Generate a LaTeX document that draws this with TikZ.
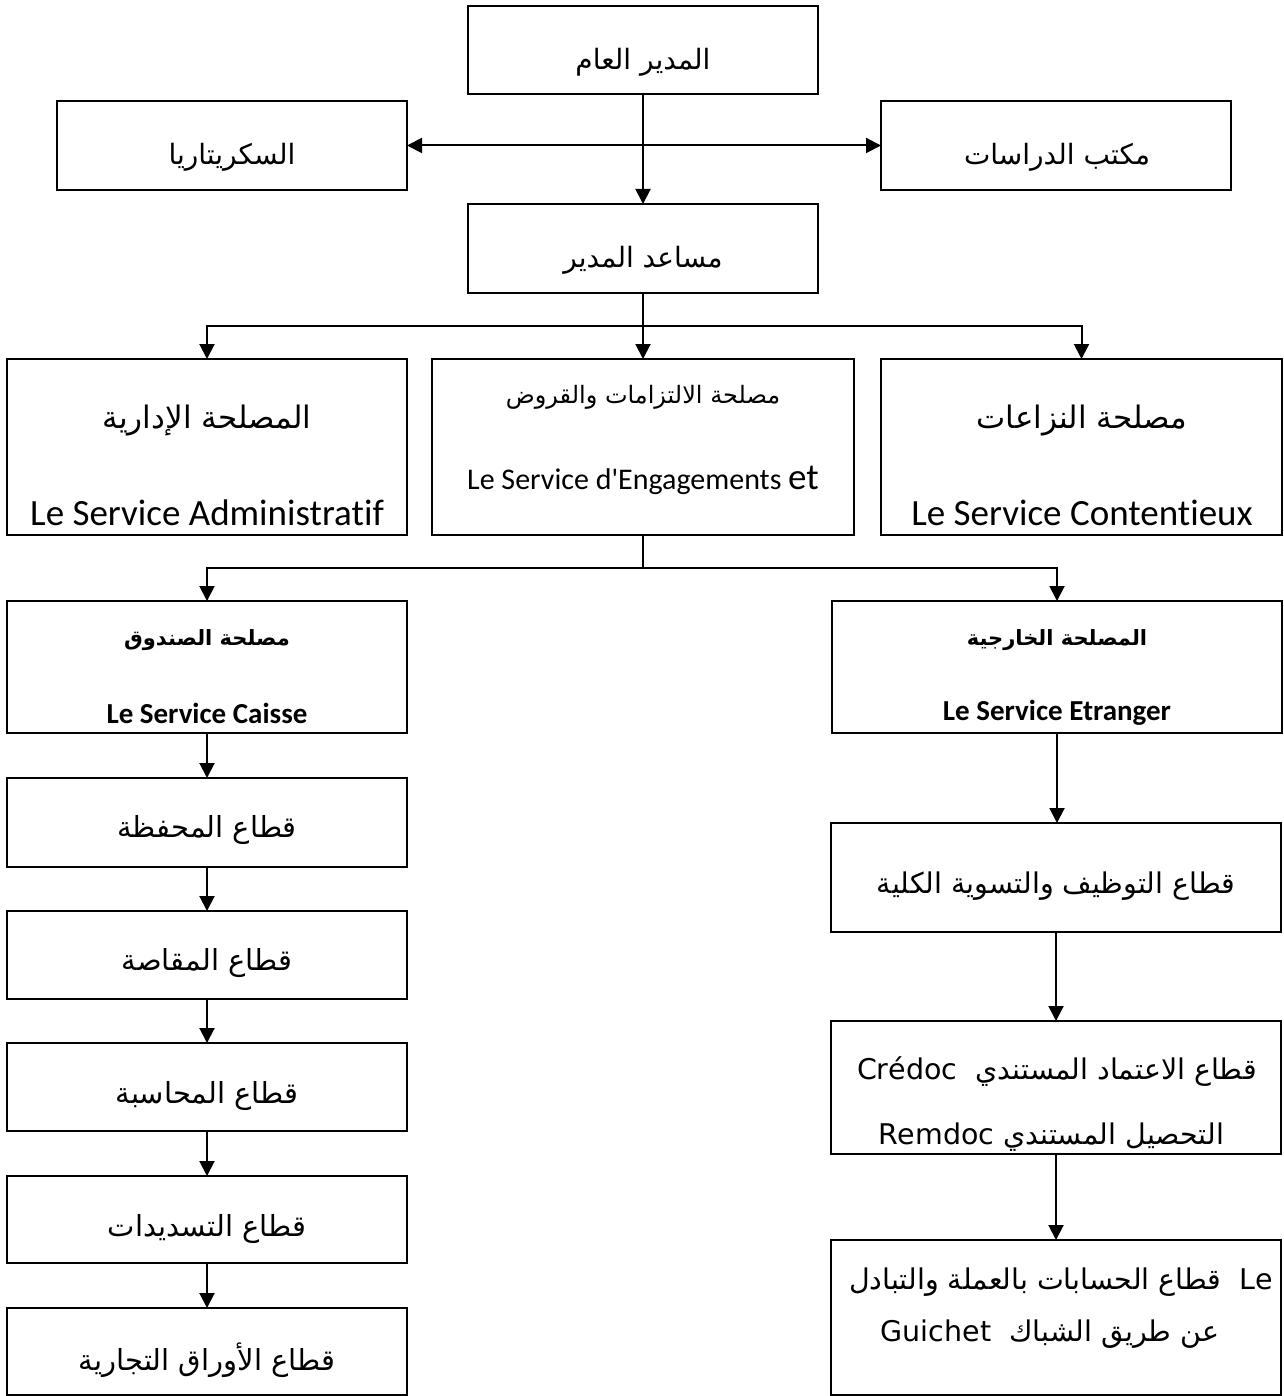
\documentclass[tikz,border=0pt]{standalone}
\usepackage{fontspec}
\setmainfont{Carlito}
\newfontfamily\carl{Carlito}[Ligatures=NoCommon]
\newfontfamily\arabicfont[Script=Arabic]{DejaVu Sans}
\TeXXeTstate=1
\usetikzlibrary{arrows.meta}
\newcommand{\fs}[1]{\fontsize{#1}{#1}\selectfont}
\begin{document}
\begin{tikzpicture}[x=1pt,y=-1pt,
  box/.style={draw, line width=2.2pt, rectangle, inner sep=0pt, outer sep=0pt, anchor=north west},
  lbl/.style={inner sep=0pt, anchor=center, font=\carl},
  conn/.style={line width=2pt},
  arr/.style={line width=2pt, -{Triangle[length=15pt,width=15pt]}},
  darr/.style={line width=2pt, {Triangle[length=15pt,width=15pt]}-{Triangle[length=15pt,width=15pt]}}
]
\useasboundingbox (0,0) rectangle (1283,1396);
% boxes
\node[box, minimum width=350pt, minimum height=88pt] (dg) at (468,6) {};
\node[box, minimum width=350pt, minimum height=89pt] (sec) at (57,101) {};
\node[box, minimum width=350pt, minimum height=89pt] (etu) at (881,101) {};
\node[box, minimum width=350pt, minimum height=89pt] (adj) at (468,204) {};
\node[box, minimum width=400pt, minimum height=176pt] (adm) at (7,359) {};
\node[box, minimum width=422pt, minimum height=176pt] (eng) at (432,359) {};
\node[box, minimum width=401pt, minimum height=176pt] (con) at (881,359) {};
\node[box, minimum width=400pt, minimum height=132pt] (cai) at (7,601) {};
\node[box, minimum width=450pt, minimum height=132pt] (etr) at (832,601) {};
\node[box, minimum width=400pt, minimum height=89pt] (l1) at (7,778) {};
\node[box, minimum width=400pt, minimum height=88pt] (l2) at (7,911) {};
\node[box, minimum width=400pt, minimum height=88pt] (l3) at (7,1043) {};
\node[box, minimum width=400pt, minimum height=87pt] (l4) at (7,1176) {};
\node[box, minimum width=400pt, minimum height=87pt] (l5) at (7,1308) {};
\node[box, minimum width=450pt, minimum height=109pt] (ra) at (831,823) {};
\node[box, minimum width=450pt, minimum height=133pt] (rb) at (831,1021) {};
\node[box, minimum width=450pt, minimum height=155pt] (rc) at (831,1240) {};
% texts
\node[lbl] (tdg) at (643,62) {\arabicfont\fs{28}\beginR المدير العام\endR};
\node[lbl] (tsec) at (232,157) {\arabicfont\fs{28}\beginR السكريتاريا\endR};
\node[lbl] (tetu) at (1057,157) {\arabicfont\fs{28}\beginR مكتب الدراسات\endR};
\node[lbl] (tadj) at (643,260) {\arabicfont\fs{28}\beginR مساعد المدير\endR};
\node[lbl] (tadm1) at (207,421) {\arabicfont\fs{31}\beginR المصلحة الإدارية\endR};
\node[lbl] (tadm2) at (207,513) {\fs{37}Le Service Administratif};
\node[lbl] (teng1) at (643,397) {\arabicfont\fs{24}\beginR مصلحة الالتزامات والقروض\endR};
\node[lbl] (teng2) at (643,480) {\fs{30}Le Service d'Engagements {\fs{37}et}};
\node[lbl] (tcon1) at (1082,421) {\arabicfont\fs{31}\beginR مصلحة النزاعات\endR};
\node[lbl] (tcon2) at (1082,513) {\fs{37}Le Service Contentieux};
\node[lbl] (tcai1) at (207,640) {\arabicfont\fs{21}\bfseries\beginR مصلحة الصندوق\endR};
\node[lbl] (tcai2) at (207,713) {\fs{29}\bfseries Le Service Caisse};
\node[lbl] (tetr1) at (1057,640) {\arabicfont\fs{21}\bfseries\beginR المصلحة الخارجية\endR};
\node[lbl] (tetr2) at (1057,713) {\fs{29}\bfseries Le Service Etranger};
\node[lbl] (tl1) at (207,830) {\arabicfont\fs{29}\beginR قطاع المحفظة\endR};
\node[lbl] (tl2) at (207,963) {\arabicfont\fs{29}\beginR قطاع المقاصة\endR};
\node[lbl] (tl3) at (207,1096) {\arabicfont\fs{29}\beginR قطاع المحاسبة\endR};
\node[lbl] (tl4) at (207,1229) {\arabicfont\fs{29}\beginR قطاع التسديدات\endR};
\node[lbl] (tl5) at (207,1360) {\arabicfont\fs{29}\beginR قطاع الأوراق التجارية\endR};
\node[lbl] (tra) at (1056,886) {\arabicfont\fs{28.5}\beginR قطاع التوظيف والتسوية الكلية\endR};
\node[lbl] (trb1) at (1057,1072) {\arabicfont\fs{28.5}\beginR قطاع الاعتماد المستندي\ \ \beginL Crédoc\endL\endR};
\node[lbl] (trb2) at (1051,1137) {\arabicfont\fs{28.5}\beginR التحصيل المستندي \beginL Remdoc\endL\endR};
\node[lbl] (trc1) at (1061,1282) {\arabicfont\fs{28.5}\beginR\beginL Le\endL\ \ قطاع الحسابات بالعملة والتبادل\endR};
\node[lbl] (trc2) at (1050,1334) {\arabicfont\fs{28.5}\beginR عن طريق الشباك\ \ \beginL Guichet\endL\endR};
% connectors
\draw[arr] (dg.south) -- (adj.north);
\draw[darr] (sec.east) -- (etu.west);
\coordinate (j2) at (643,326);
\draw[conn] (adj.south) -- (j2);
\draw[arr] (j2) -| (adm.north);
\draw[arr] (j2) -- (eng.north);
\draw[arr] (j2) -| (con.north);
\coordinate (j3) at (643,568);
\draw[conn] (eng.south) -- (j3);
\draw[arr] (j3) -| (cai.north);
\draw[arr] (j3) -| (etr.north);
\draw[arr] (cai.south) -- (l1.north);
\draw[arr] (l1.south) -- (l2.north);
\draw[arr] (l2.south) -- (l3.north);
\draw[arr] (l3.south) -- (l4.north);
\draw[arr] (l4.south) -- (l5.north);
\draw[arr] (etr.south) -- (etr.south |- ra.north);
\draw[arr] (ra.south) -- (rb.north);
\draw[arr] (rb.south) -- (rc.north);
\end{tikzpicture}
\end{document}
